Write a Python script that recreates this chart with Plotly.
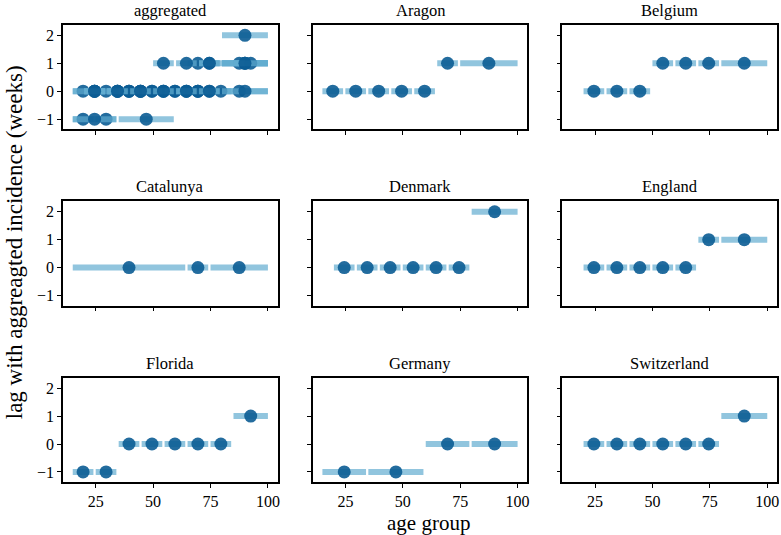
import plotly.graph_objects as go
from plotly.subplots import make_subplots

# ---- data: age group bounds (years) and lag (weeks) per region ----
aragon_lo = [15, 25, 35, 45, 55, 65, 75]
aragon_hi = [24, 34, 44, 54, 64, 74, 100]
aragon_lag = [0, 0, 0, 0, 0, 1, 1]

belgium_lo = [20, 30, 40, 50, 60, 70, 80]
belgium_hi = [29, 39, 49, 59, 69, 79, 100]
belgium_lag = [0, 0, 0, 1, 1, 1, 1]

catalunya_lo = [15, 65, 75]
catalunya_hi = [64, 74, 100]
catalunya_lag = [0, 0, 0]

denmark_lo = [20, 30, 40, 50, 60, 70, 80]
denmark_hi = [29, 39, 49, 59, 69, 79, 100]
denmark_lag = [0, 0, 0, 0, 0, 0, 2]

england_lo = [20, 30, 40, 50, 60, 70, 80]
england_hi = [29, 39, 49, 59, 69, 79, 100]
england_lag = [0, 0, 0, 0, 0, 1, 1]

florida_lo = [15, 25, 35, 45, 55, 65, 75, 85]
florida_hi = [24, 34, 44, 54, 64, 74, 84, 100]
florida_lag = [-1, -1, 0, 0, 0, 0, 0, 1]

germany_lo = [15, 35, 60, 80]
germany_hi = [34, 59, 79, 100]
germany_lag = [-1, -1, 0, 0]

switzerland_lo = [20, 30, 40, 50, 60, 70, 80]
switzerland_hi = [29, 39, 49, 59, 69, 79, 100]
switzerland_lag = [0, 0, 0, 0, 0, 0, 1]

regions = {
    "Aragon": (aragon_lo, aragon_hi, aragon_lag),
    "Belgium": (belgium_lo, belgium_hi, belgium_lag),
    "Catalunya": (catalunya_lo, catalunya_hi, catalunya_lag),
    "Denmark": (denmark_lo, denmark_hi, denmark_lag),
    "England": (england_lo, england_hi, england_lag),
    "Florida": (florida_lo, florida_hi, florida_lag),
    "Germany": (germany_lo, germany_hi, germany_lag),
    "Switzerland": (switzerland_lo, switzerland_hi, switzerland_lag),
}

panel_titles = ["aggregated", "Aragon", "Belgium", "Catalunya", "Denmark",
                "England", "Florida", "Germany", "Switzerland"]
x_ticks = [25, 50, 75, 100]
y_ticks = [-1, 0, 1, 2]
y_ticktext = ["\u22121", "0", "1", "2"]

BAR_COLOR = "rgba(99,172,208,0.7)"
DOT_COLOR = "rgba(11,92,147,0.9)"
FONT = "Liberation Serif"

fig = make_subplots(rows=3, cols=3, subplot_titles=panel_titles,
                    horizontal_spacing=0.049, vertical_spacing=0.158)


def add_region(fig, lo, hi, lag, row, col):
    xs, ys = [], []
    for a, b, l in zip(lo, hi, lag):
        xs += [a, b, None]
        ys += [l, l, None]
    fig.add_trace(go.Scatter(x=xs, y=ys, mode="lines",
                             line=dict(color=BAR_COLOR, width=6),
                             hoverinfo="skip", showlegend=False),
                  row=row, col=col)
    mids = [(a + b) / 2 for a, b in zip(lo, hi)]
    fig.add_trace(go.Scatter(x=mids, y=lag, mode="markers",
                             marker=dict(color=DOT_COLOR, size=13, line=dict(width=0)),
                             showlegend=False),
                  row=row, col=col)


# aggregated panel: all regions overlaid
for name, (lo, hi, lag) in regions.items():
    add_region(fig, lo, hi, lag, 1, 1)

for i, name in enumerate(panel_titles[1:], start=1):
    r, c = i // 3 + 1, i % 3 + 1
    lo, hi, lag = regions[name]
    add_region(fig, lo, hi, lag, r, c)

for r in range(1, 4):
    for c in range(1, 4):
        fig.update_xaxes(row=r, col=c, range=[10.75, 104.25], tickvals=x_ticks,
                         showticklabels=(r == 3), showline=True, mirror=True,
                         linecolor="black", linewidth=1.5, ticks="outside",
                         ticklen=4, tickwidth=1.2, tickcolor="black",
                         showgrid=False, zeroline=False,
                         tickfont=dict(family=FONT, size=16, color="black"))
        fig.update_yaxes(row=r, col=c, range=[-1.36, 2.37], tickvals=y_ticks,
                         ticktext=y_ticktext,
                         showticklabels=(c == 1), showline=True, mirror=True,
                         linecolor="black", linewidth=1.5, ticks="outside",
                         ticklen=4, tickwidth=1.2, tickcolor="black",
                         showgrid=False, zeroline=False,
                         tickfont=dict(family=FONT, size=16, color="black"))

for ann in fig.layout.annotations:
    ann.font = dict(family=FONT, size=16.5, color="black")
    ann.yshift = 3

fig.add_annotation(text="age group", xref="paper", yref="paper",
                   x=0.5126, y=-0.0897, showarrow=False,
                   xanchor="center", yanchor="middle",
                   font=dict(family=FONT, size=21, color="black"))
fig.add_annotation(text="lag with aggreagted incidence (weeks)", xref="paper", yref="paper",
                   x=-0.0684, y=0.525, showarrow=False, textangle=-90,
                   xanchor="center", yanchor="middle",
                   font=dict(family=FONT, size=23, color="black"))

fig.update_layout(width=781, height=535,
                  margin=dict(l=63, r=2, t=25, b=53),
                  plot_bgcolor="white", paper_bgcolor="white",
                  font=dict(family=FONT, color="black"))

# remove the default 8px page margin so the figure fills the window exactly
fig.write_html("out.html", config={"displayModeBar": False},
               post_script="document.body.style.margin='0px';")
